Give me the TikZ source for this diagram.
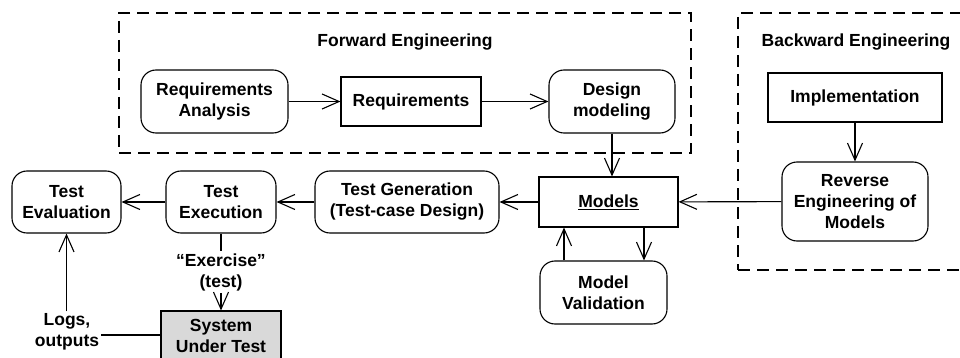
\documentclass[tikz,border=0pt]{standalone}
\usepackage{fontspec}
\setmainfont{Liberation Sans}
\usetikzlibrary{arrows.meta}
\tikzset{
  every node/.style={font=\fontsize{17.5}{21}\selectfont\bfseries, align=center, inner sep=0pt},
  base/.style={draw, line width=1.1pt},
  rbox/.style={base, rounded corners=15pt},
  sbox/.style={base},
  group/.style={draw, line width=1.1pt, dash pattern=on 12pt off 7pt},
  conn/.style={line width=1.1pt},
  arr/.style={conn, -{Straight Barb[length=17pt,width=15pt,line width=1.1pt]}},
}
\begin{document}
\begin{tikzpicture}[x=1pt,y=-1pt]
\useasboundingbox (0,0) rectangle (960,358);
\clip (0,0) rectangle (960,358);
% groups
\node[group, minimum width=572pt, minimum height=140pt] (fwd) at (405,83) {};
\node[group, minimum width=240pt, minimum height=257pt] (bwd) at (858,141.5) {};
\node (fwdlabel) at (405,42) {Forward Engineering};
\node (bwdlabel) at (856,42) {Backward Engineering};
% forward
\node[rbox, minimum width=147pt, minimum height=63pt] (ra) at (214.5,101.5) {Requirements\\Analysis};
\node[sbox, minimum width=140pt, minimum height=49pt] (req) at (411,101.5) {Requirements};
\node[rbox, minimum width=126pt, minimum height=63pt] (dm) at (612,101.5) {Design\\modeling};
% backward
\node[sbox, minimum width=174pt, minimum height=49pt] (impl) at (855,97.5) {Implementation};
\node[rbox, minimum width=146pt, minimum height=79pt] (rev) at (855,201.5) {Reverse\\Engineering of\\Models};
% middle row
\node[sbox, minimum width=139pt, minimum height=50pt] (models) at (608.5,202) {\underline{Models}};
\node[rbox, minimum width=127pt, minimum height=63pt] (mv) at (603.5,292.5) {Model\\Validation};
\node[rbox, minimum width=184pt, minimum height=62pt] (tg) at (407,202) {Test Generation\\(Test-case Design)};
\node[rbox, minimum width=110pt, minimum height=62pt] (te) at (221,202) {Test\\Execution};
\node[rbox, minimum width=109pt, minimum height=62pt] (tev) at (66.5,202) {Test\\Evaluation};
\node[sbox, fill={rgb,255:red,217;green,217;blue,217}, minimum width=120pt, minimum height=49pt] (sut) at (221,335.5) {System\\Under Test};
\node[inner sep=2pt] (ex) at (221,272) {“Exercise”\\(test)};
\node[inner sep=2pt] (logs) at (67,332) {Logs,\\outputs};
% connectors
\draw[arr] (ra) -- (req);
\draw[arr] (req) -- (dm);
\draw[arr] (dm.south) -- (dm.south |- models.north);
\draw[arr] (impl) -- (rev);
\draw[arr] (rev) -- (models);
\draw[arr] (models) -- (tg);
\draw[arr] (tg) -- (te);
\draw[arr] (te) -- (tev);
\draw[arr] (mv.north -| 564,0) -- (models.south -| 564,0);
\draw[arr] (models.south -| 644,0) -- (mv.north -| 644,0);
\draw[conn] (te.south) -- (ex.north);
\draw[arr] (ex.south) -- (sut.north);
\draw[conn] (sut.west |- 0,335) -- (logs.east |- 0,335);
\draw[arr] (logs.north -| tev.south) -- (tev.south);
\end{tikzpicture}
\end{document}
